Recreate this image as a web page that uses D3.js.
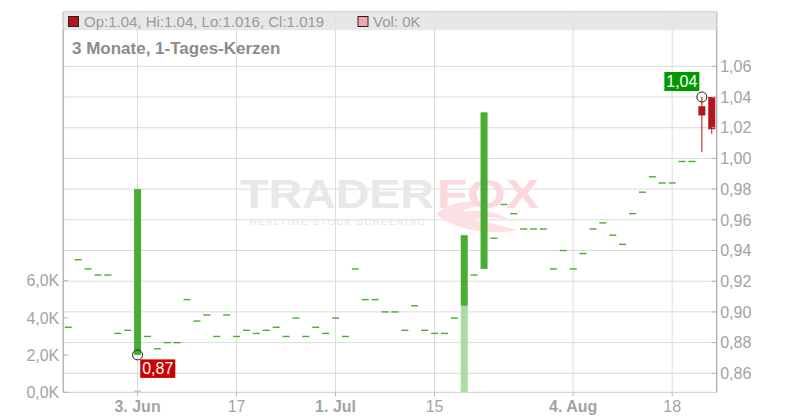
<!DOCTYPE html>
<html><head><meta charset="utf-8">
<script src="https://cdn.jsdelivr.net/npm/d3@7"></script>
<style>body{margin:0;background:#fff} svg{display:block;font-family:"Liberation Sans",Arial,sans-serif}</style>
</head><body><svg id="c" width="800" height="420"></svg>
<script>
const dates = ["2025-05-23","2025-05-26","2025-05-27","2025-05-28","2025-05-29","2025-05-30","2025-06-02",
"2025-06-03","2025-06-04","2025-06-05","2025-06-06","2025-06-09","2025-06-10","2025-06-11","2025-06-12","2025-06-13","2025-06-16",
"2025-06-17","2025-06-18","2025-06-19","2025-06-20","2025-06-23","2025-06-24","2025-06-25","2025-06-26","2025-06-27","2025-06-30",
"2025-07-01","2025-07-02","2025-07-03","2025-07-04","2025-07-07","2025-07-08","2025-07-09","2025-07-10","2025-07-11","2025-07-14",
"2025-07-15","2025-07-16","2025-07-17","2025-07-18","2025-07-21","2025-07-22","2025-07-23","2025-07-24","2025-07-25","2025-07-28",
"2025-07-29","2025-07-30","2025-07-31","2025-08-01","2025-08-04","2025-08-05","2025-08-06","2025-08-07","2025-08-08","2025-08-11",
"2025-08-12","2025-08-13","2025-08-14","2025-08-15","2025-08-18","2025-08-19","2025-08-20","2025-08-21","2025-08-22"];
const opens = [0.890,0.934,0.928,0.924,0.924,0.886,0.888,
0.872,0.884,0.876,0.880,0.880,0.908,0.894,0.898,0.884,0.898,
0.884,0.888,0.886,0.888,0.890,0.884,0.896,0.884,0.890,0.886,
0.896,0.884,0.928,0.908,0.908,0.900,0.900,0.888,0.904,0.888,
0.886,0.886,0.896,0.904,0.924,0.928,0.948,0.970,0.964,0.954,
0.954,0.954,0.928,0.940,0.928,0.938,0.954,0.958,0.950,0.944,
0.964,0.978,0.988,0.984,0.984,0.998,0.998,1.034,1.040];
const highs = [0.890,0.934,0.928,0.924,0.924,0.886,0.888,
0.980,0.884,0.876,0.880,0.880,0.908,0.894,0.898,0.884,0.898,
0.884,0.888,0.886,0.888,0.890,0.884,0.896,0.884,0.890,0.886,
0.896,0.884,0.928,0.908,0.908,0.900,0.900,0.888,0.904,0.888,
0.886,0.886,0.896,0.950,0.924,1.030,0.948,0.970,0.964,0.954,
0.954,0.954,0.928,0.940,0.928,0.938,0.954,0.958,0.950,0.944,
0.964,0.978,0.988,0.984,0.984,0.998,0.998,1.040,1.040];
const lows = [0.890,0.934,0.928,0.924,0.924,0.886,0.888,
0.872,0.884,0.876,0.880,0.880,0.908,0.894,0.898,0.884,0.898,
0.884,0.888,0.886,0.888,0.890,0.884,0.896,0.884,0.890,0.886,
0.896,0.884,0.928,0.908,0.908,0.900,0.900,0.888,0.904,0.888,
0.886,0.886,0.896,0.904,0.924,0.928,0.948,0.970,0.964,0.954,
0.954,0.954,0.928,0.940,0.928,0.938,0.954,0.958,0.950,0.944,
0.964,0.978,0.988,0.984,0.984,0.998,0.998,1.004,1.016];
const closes = [0.890,0.934,0.928,0.924,0.924,0.886,0.888,
0.980,0.884,0.876,0.880,0.880,0.908,0.894,0.898,0.884,0.898,
0.884,0.888,0.886,0.888,0.890,0.884,0.896,0.884,0.890,0.886,
0.896,0.884,0.928,0.908,0.908,0.900,0.900,0.888,0.904,0.888,
0.886,0.886,0.896,0.950,0.924,1.030,0.948,0.970,0.964,0.954,
0.954,0.954,0.928,0.940,0.928,0.938,0.954,0.958,0.950,0.944,
0.964,0.978,0.988,0.984,0.984,0.998,0.998,1.028,1.019];
const volumes = [0,0,0,0,0,0,0,
100,0,0,0,0,0,0,0,0,0,
0,0,0,0,0,0,0,0,0,0,
0,0,0,0,0,0,0,0,0,0,
0,0,0,4640,0,0,0,0,0,0,
0,0,0,0,0,0,0,0,0,0,
0,0,0,0,0,0,0,0,0];
const priceTicks = [0.86,0.88,0.90,0.92,0.94,0.96,0.98,1.00,1.02,1.04,1.06];
const volumeTicks = [0,2000,4000,6000];
const xTickDates = ["2025-06-03","2025-06-17","2025-07-01","2025-07-15","2025-08-04","2025-08-18"];
const xTickLabels = ["3. Jun","17","1. Jul","15","4. Aug","18"];
const xTickBold = [true,false,true,false,true,false];
const titleText = "3 Monate, 1-Tages-Kerzen";

const L = 63.3, R = 716.7, T = 11.7, B = 392.3;
const svg = d3.select("#c");
const de = d3.formatLocale({decimal: ",", thousands: ".", grouping: [3], currency: ["", "€"]});
const fmt2 = de.format(".2f");
const fmtK = v => de.format(".1f")(v / 1000) + "K";

const x = d3.scaleBand().domain(dates).range([L, R]).padding(0);
const y = d3.scaleLinear().domain([0.86, 1.06]).range([373.3, 66.3]);
const yv = d3.scaleLinear().domain([0, 6000]).range([B, 280.7]);
const cx = d => x(d) + x.bandwidth() / 2;

const green = "#4aad33", red = "#b5161b", grid = "#dadada", axisCol = "#b3b3b3", txt = "#a3a3a3";

// gridlines
const g = svg.append("g");
g.selectAll("line.h").data(priceTicks).join("line")
  .attr("x1", L).attr("x2", R).attr("y1", d => y(d)).attr("y2", d => y(d))
  .attr("stroke", grid).attr("stroke-width", 1);
g.selectAll("line.v").data(xTickDates).join("line")
  .attr("x1", d => cx(d)).attr("x2", d => cx(d)).attr("y1", T).attr("y2", B)
  .attr("stroke", grid).attr("stroke-width", 1);

// watermark
const wm = svg.append("g");
wm.append("text").attr("x", 240).attr("y", 207.5).attr("font-size", 41).attr("font-weight", "bold")
  .attr("fill", "#e8e8e8").attr("textLength", 194).attr("lengthAdjust", "spacingAndGlyphs").text("TRADER");
wm.append("path").attr("d", "M436,214 C452,200 478,198 500,206 C488,203 470,206 462,212 C480,208 500,212 512,222 C500,216 482,216 470,220 C492,222 506,228 518,230 C490,236 454,230 436,214 Z")
  .attr("fill", "#fde0e3");
wm.append("text").attr("x", 437).attr("y", 207.5).attr("font-size", 41).attr("font-weight", "bold")
  .attr("fill", "#fcd8dc").attr("textLength", 102).attr("lengthAdjust", "spacingAndGlyphs").text("FOX");
wm.append("text").attr("x", 250).attr("y", 225).attr("font-size", 9.5).attr("letter-spacing", 2.2)
  .attr("fill", "#e4e4e4").attr("textLength", 177).attr("lengthAdjust", "spacing").text("REALTIME STOCK SCREENING");

// candles
const idx = d3.range(dates.length);
const cg = svg.append("g");
const cw = 7;
cg.selectAll("line.wick").data(idx).join("line")
  .attr("x1", i => cx(dates[i]) ).attr("x2", i => cx(dates[i]))
  .attr("y1", i => y(highs[i])).attr("y2", i => y(lows[i]))
  .attr("stroke", i => closes[i] >= opens[i] ? green : red).attr("stroke-width", 1);
cg.selectAll("rect.body").data(idx).join("rect")
  .attr("x", i => cx(dates[i]) - cw / 2)
  .attr("width", cw)
  .attr("y", i => { const a = y(Math.max(opens[i], closes[i])), b = y(Math.min(opens[i], closes[i])); return (b - a) < 1.4 ? (a + b) / 2 - 0.7 : a; })
  .attr("height", i => { const a = y(Math.max(opens[i], closes[i])), b = y(Math.min(opens[i], closes[i])); return Math.max(1.4, b - a); })
  .attr("fill", i => closes[i] >= opens[i] ? green : red);

// volume
cg.selectAll("rect.vol").data(idx.filter(i => volumes[i] > 0)).join("rect")
  .attr("x", i => cx(dates[i]) - cw / 2).attr("width", cw)
  .attr("y", i => yv(volumes[i])).attr("height", i => B - yv(volumes[i]))
  .attr("fill", "#abdca6");

// axes lines
svg.append("line").attr("x1", L).attr("x2", L).attr("y1", T).attr("y2", B).attr("stroke", axisCol).attr("stroke-width", 1.5);
svg.append("line").attr("x1", R).attr("x2", R).attr("y1", T).attr("y2", B).attr("stroke", axisCol).attr("stroke-width", 1.5);
svg.append("line").attr("x1", L).attr("x2", R).attr("y1", B).attr("y2", B).attr("stroke", "#cccccc").attr("stroke-width", 1);

// right price axis
const ra = svg.append("g");
ra.selectAll("line").data(priceTicks).join("line")
  .attr("x1", R - 5).attr("x2", R).attr("y1", d => y(d)).attr("y2", d => y(d)).attr("stroke", axisCol);
ra.selectAll("text").data(priceTicks).join("text")
  .attr("x", R + 3.5).attr("y", d => y(d)).attr("dy", "0.36em").attr("font-size", 16).attr("fill", txt)
  .text(d => fmt2(d));

// left volume axis
const la = svg.append("g");
la.selectAll("line").data(volumeTicks).join("line")
  .attr("x1", L).attr("x2", L + 5).attr("y1", d => yv(d)).attr("y2", d => yv(d)).attr("stroke", axisCol);
la.selectAll("text").data(volumeTicks).join("text")
  .attr("x", L - 4).attr("y", d => yv(d)).attr("dy", "0.36em").attr("text-anchor", "end").attr("font-size", 16).attr("fill", txt)
  .text(d => fmtK(d));

// x axis
const xa = svg.append("g");
xa.selectAll("line").data(xTickDates).join("line")
  .attr("x1", d => cx(d)).attr("x2", d => cx(d)).attr("y1", B).attr("y2", B + 4).attr("stroke", axisCol);
xa.selectAll("text").data(xTickDates).join("text")
  .attr("x", d => cx(d)).attr("y", 411.7).attr("text-anchor", "middle").attr("font-size", 16)
  .attr("font-weight", (d, i) => xTickBold[i] ? "bold" : "normal").attr("fill", txt)
  .text((d, i) => xTickLabels[i]);

// legend band
svg.append("rect").attr("x", L).attr("y", T).attr("width", R - L).attr("height", 18.5).attr("fill", "#e3e3e3").attr("opacity", 0.85);
svg.append("line").attr("x1", L).attr("x2", R).attr("y1", T).attr("y2", T).attr("stroke", "#cccccc");
const last = dates.length - 1;
svg.append("rect").attr("x", 68.5).attr("y", 16.5).attr("width", 10).attr("height", 10).attr("fill", red).attr("stroke", "#222").attr("stroke-width", 1);
svg.append("text").attr("x", 84).attr("y", 26.5).attr("font-size", 15).attr("fill", "#9a9a9a")
  .text(`Op:${opens[last]}, Hi:${highs[last]}, Lo:${lows[last]}, Cl:${closes[last]}`);
svg.append("rect").attr("x", 358).attr("y", 16.5).attr("width", 10).attr("height", 10).attr("fill", "#f2a7b0").attr("stroke", "#222").attr("stroke-width", 1);
svg.append("text").attr("x", 373).attr("y", 26.5).attr("font-size", 15).attr("fill", "#9a9a9a")
  .text(`Vol: ${Math.round(volumes[last] / 1000)}K`);

// title
svg.append("text").attr("x", 72).attr("y", 54).attr("font-size", 17).attr("font-weight", "bold").attr("fill", "#8c8c8c").text(titleText);

// min / max markers
const minI = d3.minIndex(lows), maxI = d3.maxIndex(highs);
const mnx = cx(dates[minI]), mny = y(lows[minI]);
const mxx = cx(dates[maxI]), mxy = y(highs[maxI]);
svg.append("circle").attr("cx", mnx).attr("cy", mny).attr("r", 5).attr("fill", "none").attr("stroke", "#222").attr("stroke-width", 1);
svg.append("circle").attr("cx", mxx).attr("cy", mxy).attr("r", 5).attr("fill", "none").attr("stroke", "#222").attr("stroke-width", 1);
svg.append("rect").attr("x", mnx + 2.7).attr("y", mny + 4.5).attr("width", 35).attr("height", 18.5).attr("fill", "#cc0000");
svg.append("text").attr("x", mnx + 20.2).attr("y", mny + 19.5).attr("text-anchor", "middle").attr("font-size", 16).attr("fill", "#fff").text(fmt2(lows[minI]));
svg.append("rect").attr("x", mxx - 37.5).attr("y", mxy - 25).attr("width", 35).attr("height", 19).attr("fill", "#009a00");
svg.append("text").attr("x", mxx - 20).attr("y", mxy - 10).attr("text-anchor", "middle").attr("font-size", 16).attr("fill", "#fff").text(fmt2(highs[maxI]));
</script></body></html>
